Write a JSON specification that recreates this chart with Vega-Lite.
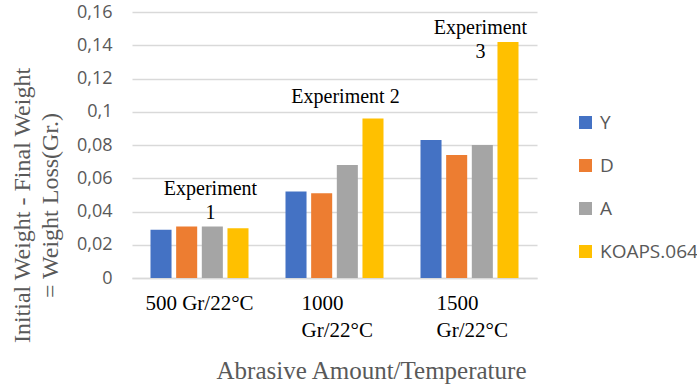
{
  "$schema": "https://vega.github.io/schema/vega-lite/v6.json",
  "width": 405,
  "height": 266,
  "autosize": "none",
  "padding": {"left": 132, "top": 12, "right": 160, "bottom": 110},
  "background": "white",
  "config": {"view": {"stroke": null}},
  "datasets": {
    "bars": [
      {"cond": "500 Gr/22°C", "series": "Y", "value": 0.029},
      {"cond": "500 Gr/22°C", "series": "D", "value": 0.031},
      {"cond": "500 Gr/22°C", "series": "A", "value": 0.031},
      {"cond": "500 Gr/22°C", "series": "KOAPS.064", "value": 0.030},
      {"cond": "1000 Gr/22°C", "series": "Y", "value": 0.052},
      {"cond": "1000 Gr/22°C", "series": "D", "value": 0.051},
      {"cond": "1000 Gr/22°C", "series": "A", "value": 0.068},
      {"cond": "1000 Gr/22°C", "series": "KOAPS.064", "value": 0.096},
      {"cond": "1500 Gr/22°C", "series": "Y", "value": 0.083},
      {"cond": "1500 Gr/22°C", "series": "D", "value": 0.074},
      {"cond": "1500 Gr/22°C", "series": "A", "value": 0.080},
      {"cond": "1500 Gr/22°C", "series": "KOAPS.064", "value": 0.142}
    ],
    "notes": [
      {"cond": "500 Gr/22°C", "label": ["Experiment", "1"], "value": 0.0537},
      {"cond": "1000 Gr/22°C", "label": ["Experiment 2"], "value": 0.1087},
      {"cond": "1500 Gr/22°C", "label": ["Experiment", "3"], "value": 0.1505}
    ]
  },
  "encoding": {
    "x": {
      "field": "cond", "type": "nominal", "sort": null,
      "scale": {"paddingInner": 0.274, "paddingOuter": 0.137},
      "axis": {
        "title": "Abrasive Amount/Temperature",
        "titleFont": "Liberation Serif", "titleFontSize": 25, "titleFontWeight": "normal",
        "titleColor": "#595959", "titleX": 239, "titleY": 92, "titleBaseline": "middle",
        "labelAngle": 0,
        "labelExpr": "datum.value == '500 Gr/22°C' ? datum.value : split(datum.value, ' ')",
        "labelFont": "Liberation Serif", "labelFontSize": 21, "labelColor": "#000000",
        "labelLineHeight": 27,
        "labelAlign": {"condition": {"test": "datum.value == '500 Gr/22°C'", "value": "center"}, "value": "left"},
        "labelOffset": {"condition": {"test": "datum.value == '500 Gr/22°C'", "value": 0}, "value": -33},
        "labelPadding": 25, "labelBaseline": "middle",
        "ticks": false, "domainColor": "#d9d9d9", "domainWidth": 1.5
      }
    },
    "y": {
      "field": "value", "type": "quantitative",
      "scale": {"domain": [0, 0.16]},
      "axis": {
        "values": [0, 0.02, 0.04, 0.06, 0.08, 0.1, 0.12, 0.14, 0.16],
        "labelExpr": "replace(format(datum.value, ''), '.', ',')",
        "labelOverlap": false,
        "title": ["Initial Weight - Final Weight", "= Weight Loss(Gr.)"],
        "titleFont": "Liberation Serif", "titleFontSize": 24, "titleFontWeight": "normal",
        "titleColor": "#595959", "titleLineHeight": 28, "titleX": -98, "titleY": 193,
        "titleAlign": "center",
        "labelFont": "Open Sans", "labelFontSize": 18, "labelColor": "#595959",
        "labelPadding": 20,
        "ticks": false, "domain": false,
        "gridColor": "#d9d9d9", "gridWidth": 1.5
      }
    }
  },
  "layer": [
    {
      "data": {"name": "bars"},
      "mark": {"type": "bar"},
      "encoding": {
        "xOffset": {"field": "series", "type": "nominal", "sort": ["Y", "D", "A", "KOAPS.064"], "scale": {"paddingInner": 0.18}},
        "color": {
          "field": "series", "type": "nominal",
          "scale": {"domain": ["Y", "D", "A", "KOAPS.064"], "range": ["#4472C4", "#ED7D31", "#A5A5A5", "#FFC000"]},
          "legend": {
            "title": null, "orient": "none", "legendX": 444, "legendY": 101,
            "symbolType": "square", "symbolSize": 169, "symbolStrokeWidth": 0,
            "labelFont": "Open Sans", "labelFontSize": 19, "labelColor": "#595959",
            "rowPadding": 23, "labelOffset": 5
          }
        }
      }
    },
    {
      "data": {"name": "notes"},
      "mark": {"type": "text", "font": "Liberation Serif", "fontSize": 20, "color": "#000000", "lineHeight": 24, "baseline": "middle", "dx": 11},
      "encoding": {
        "text": {"field": "label"}
      }
    }
  ]
}
